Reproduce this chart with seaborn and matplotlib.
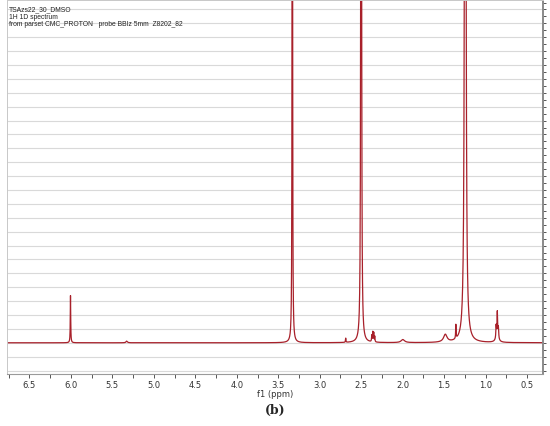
"""1H NMR spectrum (DMSO-d6) redrawn from a Lorentzian peak list."""

import matplotlib
matplotlib.use("Agg")
import matplotlib.pyplot as plt
from matplotlib.ticker import MultipleLocator, NullFormatter
import seaborn as sns
import pandas as pd
import numpy as np

# peak list: shift (ppm), height (grid units), half width (ppm)
peak_shift = [6.005, 5.327, 3.330, 2.686, 2.500,
              2.372, 2.360, 2.348, 2.336, 1.997,
              1.485, 1.358, 1.245, 0.872, 0.858, 0.845, 0.860]
peak_height = [3.4, 0.12, 150.0, 0.3, 300.0,
               0.45, 0.7, 0.65, 0.4, 0.22,
               0.55, 1.0, 200.0, 0.9, 1.8, 0.8, 0.35]
peak_width = [0.003, 0.010, 0.0018, 0.003, 0.002,
              0.003, 0.003, 0.003, 0.003, 0.025,
              0.025, 0.003, 0.0045, 0.004, 0.004, 0.004, 0.022]

header_lines = ["TSAzs22_30_DMSO",
                "1H 1D spectrum",
                "from parset CMC_PROTON   probe BBIz 5mm  Z8202_82"]

ppm = np.linspace(0.25, 6.85, 8000)
intensity = np.zeros_like(ppm)
for s, h, w in zip(peak_shift, peak_height, peak_width):
    intensity += h * w**2 / ((ppm - s) ** 2 + w**2)
df = pd.DataFrame({"ppm": ppm, "intensity": intensity})

sns.set_style("white")
plt.rcParams["font.family"] = ["DejaVu Sans"]

fig = plt.figure(figsize=(5.5, 4.26), dpi=100)
ax = fig.add_axes([0.0127, 0.122, 0.9746, 0.877])

sns.lineplot(data=df, x="ppm", y="intensity", ax=ax, color="#a8202a",
             linewidth=0.9, sort=False, estimator=None)

ax.set_xlim(6.771, 0.307)
ax.set_ylim(-2.25, 24.65)

# horizontal grid, one line per unit
ax.yaxis.set_major_locator(MultipleLocator(1))
ax.yaxis.set_minor_locator(MultipleLocator(0.5))
ax.yaxis.set_major_formatter(NullFormatter())
ax.grid(axis="y", which="major", color="#d9d9d9", linewidth=0.8)
ax.grid(axis="x", visible=False)
ax.set_axisbelow(True)
ax.yaxis.tick_right()
ax.tick_params(axis="y", which="both", direction="out", length=2.5,
               width=0.7, color="#555555", right=True, left=False)

ax.xaxis.set_major_locator(MultipleLocator(0.5))
ax.xaxis.set_minor_locator(MultipleLocator(0.25))
ax.tick_params(axis="x", which="both", direction="out", length=3,
               width=0.7, color="#555555", labelsize=6, pad=2,
               labelcolor="#333333", bottom=True)
ax.set_xticks(np.arange(0.5, 6.51, 0.5))
ax.set_xticklabels([f"{v:.1f}" for v in np.arange(0.5, 6.51, 0.5)])
ax.set_xlabel("f1 (ppm)", fontsize=6, color="#333333", labelpad=0)
ax.set_ylabel("")

for side in ["left", "top"]:
    ax.spines[side].set_color("#c8c8c8")
    ax.spines[side].set_linewidth(0.7)
ax.spines["bottom"].set_color("#9a9a9a")
ax.spines["bottom"].set_linewidth(0.8)
ax.spines["right"].set_color("#8a8a8a")
ax.spines["right"].set_linewidth(1.4)

for i, line in enumerate(header_lines):
    ax.text(0.003, 0.985 - i * 0.0205, line, transform=ax.transAxes,
            fontsize=4.9, color="#222222", va="top", ha="left",
            family="Liberation Sans")

fig.text(0.5, 0.037, "(b)", ha="center", va="center", fontsize=9,
         fontweight="bold", family="DejaVu Serif")

fig.savefig("out.png", dpi=100)
plt.close(fig)
